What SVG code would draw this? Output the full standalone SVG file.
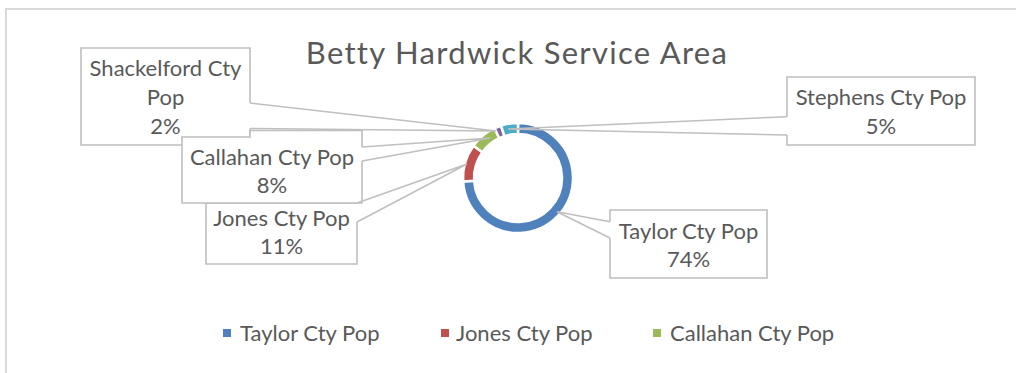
<svg xmlns="http://www.w3.org/2000/svg" width="1016" height="373" viewBox="0 0 1016 373">
<style>
text{font-family:Lato,"Liberation Sans",sans-serif;fill:#595959}
.lbl{font-size:22px;text-anchor:middle}
.leg{font-size:22px}
.box{fill:#fff;stroke:#bfbfbf;stroke-width:1.6}
.lead{fill:none;stroke:#bfbfbf;stroke-width:1.6}
.seg{stroke:#fff;stroke-width:2.5}
</style>
<rect x="0" y="0" width="1016" height="373" fill="#fff"/>
<rect x="6" y="9" width="1030" height="400" fill="#fff" stroke="#d9d9d9" stroke-width="2"/>
<text x="517" y="64" font-size="31" text-anchor="middle" letter-spacing="1.3">Betty Hardwick Service Area</text>
<g id="donut">
<path class="seg" fill="#4f81bd" d="M518 123A55 55 0 1 1 463.11 181.45L474.09 180.76A44 44 0 1 0 518 134Z"/>
<path class="seg" fill="#c0504d" d="M463.11 181.45A55 55 0 0 1 473.5 145.67L482.4 152.14A44 44 0 0 0 474.09 180.76Z"/>
<path class="seg" fill="#9bbb59" d="M473.5 145.67A55 55 0 0 1 494.58 128.23L499.27 138.19A44 44 0 0 0 482.4 152.14Z"/>
<path class="seg" fill="#8064a2" d="M494.58 128.23A55 55 0 0 1 501 125.69L504.4 136.15A44 44 0 0 0 499.27 138.19Z"/>
<path class="seg" fill="#4bacc6" d="M501 125.69A55 55 0 0 1 518 123L518 134A44 44 0 0 0 504.4 136.15Z"/>
</g>
<g id="shackelford">
<path class="box" d="M250 103V48H81V145H250V128.5"/>
<text class="lbl" x="165.5" y="76">Shackelford Cty</text>
<text class="lbl" x="165.5" y="105">Pop</text>
<text class="lbl" x="165.5" y="134">2%</text>
</g>
<g id="jones">
<path class="box" d="M357 203H206V264H357V222"/>
<text class="lbl" x="281.5" y="226">Jones Cty Pop</text>
<text class="lbl" x="281.5" y="254">11%</text>
</g>
<g id="callahan">
<path class="box" d="M362 147V130.5H250V137H182V203H362V161"/>
<text class="lbl" x="272" y="165">Callahan Cty Pop</text>
<text class="lbl" x="272" y="193">8%</text>
</g>
<g id="stephens">
<path class="box" d="M787 116.7V77H975V145H787V135"/>
<text class="lbl" x="881" y="105">Stephens Cty Pop</text>
<text class="lbl" x="881" y="134">5%</text>
</g>
<g id="taylor">
<path class="box" d="M610 221.7V210H767V278H610V238"/>
<text class="lbl" x="688.5" y="239">Taylor Cty Pop</text>
<text class="lbl" x="688.5" y="267">74%</text>
</g>
<g id="connectors">
<polyline class="lead" points="250,103 496,131 250,128.5"/>
<polyline class="lead" points="357,203 467,164 357,222"/>
<polyline class="lead" points="362,147 490,138 362,161"/>
<polyline class="lead" points="787,116.7 508,129 787,135"/>
<polyline class="lead" points="610,221.7 557,211.7 610,238"/>
</g>
<g id="legend">
<rect x="223" y="329" width="8" height="8" fill="#4f81bd"/>
<text class="leg" x="240" y="341">Taylor Cty Pop</text>
<rect x="441" y="329" width="8" height="8" fill="#c0504d"/>
<text class="leg" x="456" y="341">Jones Cty Pop</text>
<rect x="653" y="329" width="8" height="8" fill="#9bbb59"/>
<text class="leg" x="670" y="341">Callahan Cty Pop</text>
</g>
</svg>
